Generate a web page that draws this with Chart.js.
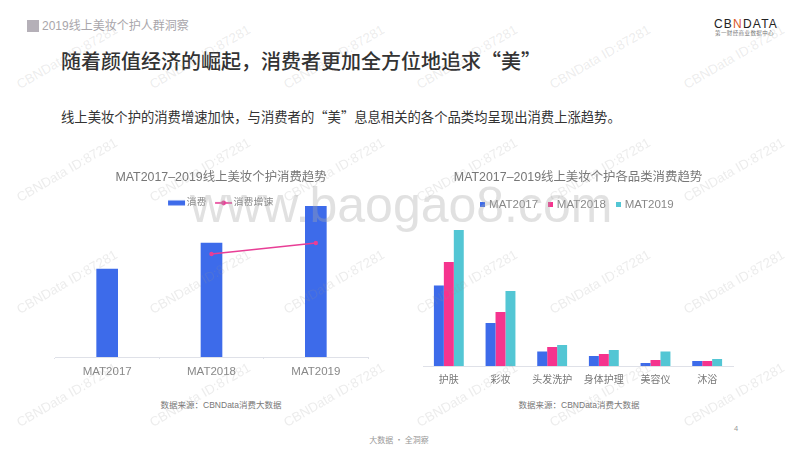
<!DOCTYPE html>
<html lang="zh-CN"><head><meta charset="utf-8">
<script src="https://cdn.jsdelivr.net/npm/chart.js@4/dist/chart.umd.min.js"></script>
<style>
html,body{margin:0;padding:0;background:#fff;width:800px;height:450px;overflow:hidden;font-family:"Liberation Sans","Noto Sans CJK SC",sans-serif}
.t{position:absolute;white-space:nowrap;line-height:1}
.cjk{font-family:"Noto Sans CJK SC",sans-serif}
canvas{position:absolute}
#c1{left:45px;top:160px}
#c2{left:403px;top:160px}
.wm{position:absolute;white-space:nowrap;color:rgba(150,150,150,.18);font-size:13.3px;line-height:1;transform:translate(-50%,-50%) rotate(-30deg);pointer-events:none;z-index:5}
</style></head><body>
<div class="t" style="left:27px;top:20px;width:12px;height:12px;background:#b5b0b8"></div>
<div class="t" style="left:42px;top:20px;font-size:12px;color:#a9a6ab">2019线上美妆个护人群洞察</div>
<div class="t cjk" style="left:61px;top:51px;font-size:20px;font-weight:500;color:#333">随着颜值经济的崛起，消费者更加全方位地追求“美”</div>
<div class="t cjk" style="left:61px;top:110px;font-size:13.33px;color:#333">线上美妆个护的消费增速加快，与消费者的“美”息息相关的各个品类均呈现出消费上涨趋势。</div>
<div class="t" style="left:714px;top:18px;font-size:12px;letter-spacing:1.2px;color:#222">CB<span style="color:#d9572b">N</span>DATA</div>
<div class="t cjk" style="left:715px;top:31px;font-size:5.5px;letter-spacing:.4px;color:#777">第一财经商业数据中心</div>
<canvas id="c1" width="352" height="221" style="width:352px;height:221px"></canvas>
<canvas id="c2" width="350" height="230" style="width:350px;height:230px"></canvas>
<div class="t" style="left:221px;top:401px;transform:translateX(-50%);font-size:8.5px;color:#777">数据来源：CBNData消费大数据</div>
<div class="t" style="left:579px;top:401px;transform:translateX(-50%);font-size:8.5px;color:#777">数据来源：CBNData消费大数据</div>
<div class="t cjk" style="left:399px;top:436px;transform:translateX(-50%);font-size:8px;color:#999">大数据 · 全洞察</div>
<div class="t" style="left:734px;top:425px;font-size:7.5px;color:#999">4</div>
<div class="t" style="left:190px;top:180px;font-size:50px;color:rgba(170,170,170,.35);z-index:4;pointer-events:none">www.baogao8.com</div>
<script>
const trendTitle = "MAT2017–2019线上美妆个护消费趋势";
const categoryTitle = "MAT2017–2019线上美妆个护各品类消费趋势";
const years = ["MAT2017","MAT2018","MAT2019"];
const spend = [88,114,151];
const spendGrowth = [null,103,114];
const categories = ["护肤","彩妆","头发洗护","身体护理","美容仪","沐浴"];
const mat2017 = [80.5,43,14.5,10,3,5];
const mat2018 = [104,54,19,12,6,5];
const mat2019 = [136,75,21,16,14.5,7];
const watermarkText = "CBNData ID:87281";

const BLUE="#3d6bea",PINK="#f5348e",CYAN="#53c6d4",LINE="#e83e96";
const FONT='"Liberation Sans","Noto Sans CJK SC",sans-serif';

for(let r=0;r<4;r++)for(let c=0;c<6;c++){
  const d=document.createElement('div');d.className='wm';d.textContent=watermarkText;
  d.style.left=(67+c*133.3)+'px';d.style.top=(57+r*112.6)+'px';document.body.appendChild(d);
}
function icon(w,h,draw){const k=document.createElement('canvas');k.width=w;k.height=h;draw(k.getContext('2d'));return k;}
const barIcon=icon(26,10,g=>{g.fillStyle=BLUE;g.fillRect(6,2.5,17,5);});
const lineIcon=icon(26,10,g=>{g.fillStyle=LINE;g.fillRect(6,4.2,17,1.6);g.beginPath();g.arc(14.5,5,2.4,0,7);g.fill();});
const sq=col=>icon(5,5,g=>{g.fillStyle=col;g.fillRect(0,0,5,5);});
const legendH={id:'legendH',beforeInit(ch,a,o){const f=ch.legend.fit;ch.legend.fit=function(){f.call(this);this.height=o.h;};}};
const spacer=(pos,w)=>({display:true,position:pos,min:0,max:1,grid:{display:false},border:{display:false},ticks:{display:false},afterFit(s){s.width=w;}});

new Chart(document.getElementById('c1'),{
  type:'bar',
  data:{labels:years,datasets:[
    {type:'line',label:'消费增速',data:spendGrowth,borderColor:LINE,backgroundColor:LINE,borderWidth:1.5,pointRadius:2.2,pointBackgroundColor:LINE,pointBorderWidth:0,tension:0,order:0},
    {label:'消费',data:spend,backgroundColor:BLUE,barThickness:21,order:1}
  ]},
  plugins:[legendH],
  options:{responsive:false,animation:false,
    layout:{padding:0},
    plugins:{
      legendH:{h:17.1},
      tooltip:{enabled:false},
      title:{display:true,text:trendTitle,color:'#777',font:{size:12.4,family:FONT,weight:'normal'},padding:{top:10,bottom:4}},
      legend:{display:true,labels:{usePointStyle:true,pointStyleWidth:13,padding:9,font:{size:10,family:FONT},color:'#888',
        generateLabels:()=>[{text:'消费',pointStyle:barIcon,fontColor:'#888',lineWidth:0,datasetIndex:1},{text:'消费增速',pointStyle:lineIcon,fontColor:'#888',lineWidth:0,datasetIndex:0}]}}
    },
    scales:{
      x:{offset:true,afterFit(s){s.height=24;},border:{color:'#dfe1e8',width:1},grid:{drawOnChartArea:false,drawTicks:true,tickLength:2,color:'#dfe1e8'},ticks:{color:'#888',font:{size:11.5,family:FONT},padding:6,maxRotation:0}},
      y:{...spacer('left',10),min:0,max:151},
      yR:spacer('right',29)
    }
  }
});

new Chart(document.getElementById('c2'),{
  type:'bar',
  data:{labels:categories,datasets:[
    {label:'MAT2017',data:mat2017,backgroundColor:BLUE},
    {label:'MAT2018',data:mat2018,backgroundColor:PINK},
    {label:'MAT2019',data:mat2019,backgroundColor:CYAN}
  ]},
  plugins:[legendH],
  options:{responsive:false,animation:false,
    datasets:{bar:{categoryPercentage:0.578,barPercentage:1}},
    layout:{padding:{left:20,right:20,top:0,bottom:0}},
    plugins:{
      legendH:{h:43.1},
      tooltip:{enabled:false},
      title:{display:true,text:categoryTitle,color:'#777',font:{size:12.4,family:FONT,weight:'normal'},padding:{top:10,bottom:2}},
      legend:{display:true,labels:{usePointStyle:true,pointStyleWidth:1,padding:12,font:{size:11.5,family:FONT},color:'#888',
        generateLabels:()=>[{text:'MAT2017',pointStyle:sq(BLUE),fontColor:'#888',lineWidth:0,datasetIndex:0},{text:'MAT2018',pointStyle:sq(PINK),fontColor:'#888',lineWidth:0,datasetIndex:1},{text:'MAT2019',pointStyle:sq(CYAN),fontColor:'#888',lineWidth:0,datasetIndex:2}]}}
    },
    scales:{
      x:{afterFit(s){s.height=24;},border:{color:'#dfe1e8',width:1},grid:{display:false,drawTicks:false},ticks:{color:'#777',font:{size:10,family:FONT},padding:8,maxRotation:0}},
      y:{display:false,min:0,max:136}
    }
  }
});
</script></body></html>
